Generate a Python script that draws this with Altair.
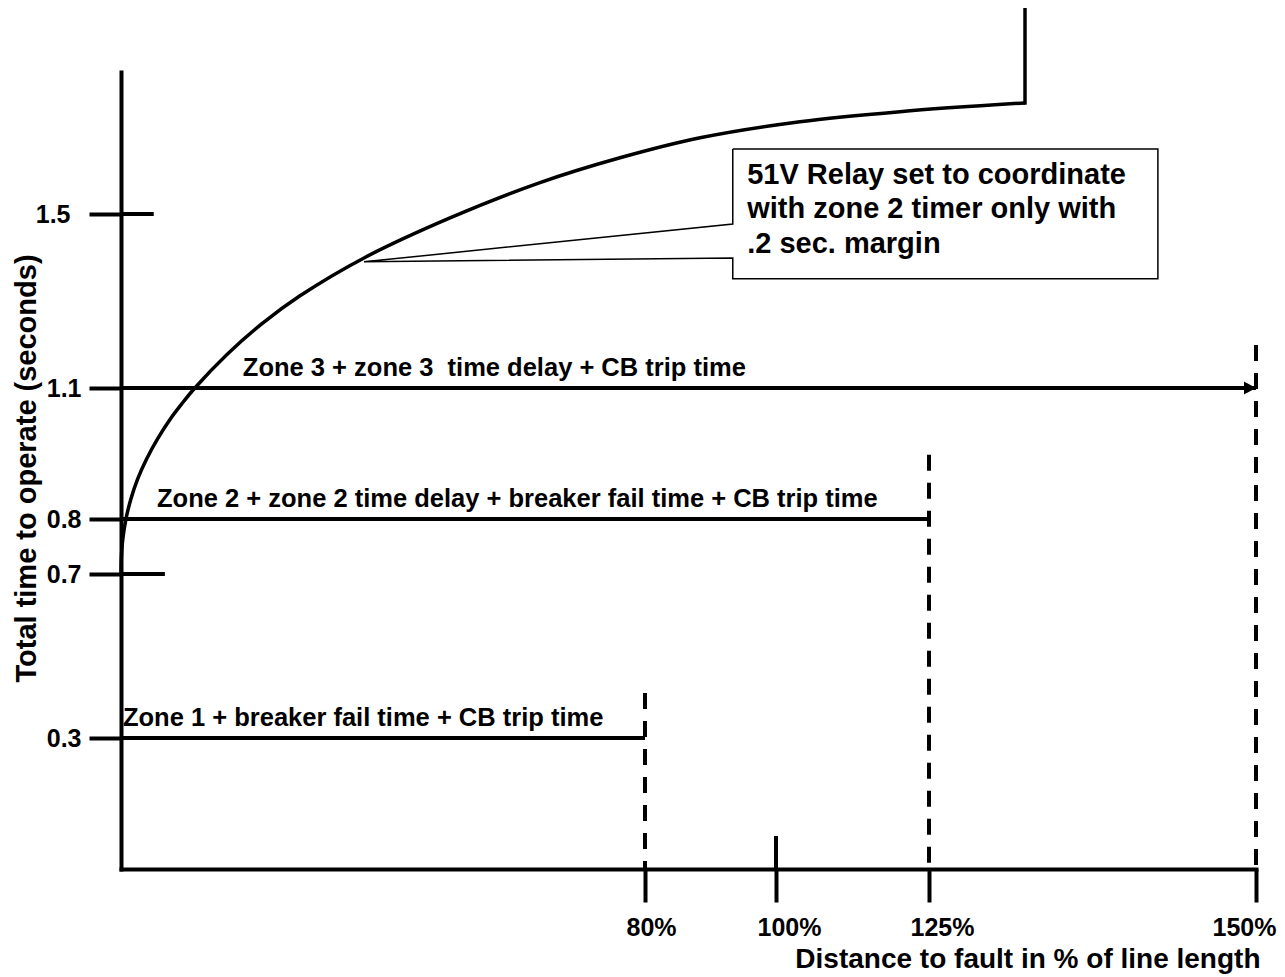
import altair as alt
import pandas as pd

FONT = "Liberation Sans"

# ---------------- axis ticks ----------------
x_tick_values = [80, 100, 125, 150]
x_tick_labels = ["80%", "100%", "125%", "150%"]
y_tick_values = [0.3, 0.7, 0.8, 1.1, 1.5]
y_tick_labels = ["0.3", "0.7", "0.8", "1.1", "1.5"]

# ---------------- scale breakpoints (schematic, non-uniform axes) ----------------
x_breaks = [0, 80, 100, 125, 150]
x_break_px = [0, 524, 655, 808, 1135]
y_breaks = [0, 0.3, 0.7, 0.8, 1.1, 1.5, 1.826]
y_break_px = [797, 666, 502, 447, 316, 142, 0]

# ---------------- zone reach lines ----------------
zone_names = [
    "Zone 1 + breaker fail time + CB trip time",
    "Zone 2 + zone 2 time delay + breaker fail time + CB trip time",
    "Zone 3 + zone 3\u00a0 time delay + CB trip time",
]
zone_time = [0.3, 0.8, 1.1]
zone_reach = [80, 125, 150]
zone_label_x = [0.3, 5.5, 18.6]

# dashed reach markers
reach_x = [80, 125, 150]
reach_top = [0.41, 0.947, 1.199]

# extra tick marks
upper_tick_x = [100]
upper_tick_top = [0.0756]
cross_tick_y = [1.5, 0.7]
cross_tick_end = [5.0, 6.7]

# ---------------- 51V relay curve ----------------
curve_x = [0, 0.02, 0.08, 0.28, 0.76, 1.51, 2.55, 3.89, 5.56, 7.53, 9.24, 11.27,
           16.18, 21.53, 27.33, 37.10, 50.23, 63.97, 76.18, 88.40, 103.92, 120.26, 132.34]
curve_y = [0.700, 0.718, 0.736, 0.764, 0.800, 0.846, 0.892, 0.937, 0.983, 1.029, 1.063, 1.100,
           1.177, 1.248, 1.312, 1.399, 1.491, 1.572, 1.629, 1.675, 1.712, 1.735, 1.755]
riser_x = [132.34]
riser_bottom = [1.755]
riser_top = [1.98]

# ---------------- callout ----------------
callout_lines = ["51V Relay set to coordinate", "with zone 2 timer only with", ".2 sec. margin"]
callout_text_x = [95.6]
callout_text_y = [1.569]
box_x = [93.4, 142.5, 142.5, 93.4, 93.4, 37.1, 93.4, 93.4]
box_y = [1.649, 1.649, 1.351, 1.351, 1.399, 1.390, 1.477, 1.649]

X_SCALE = alt.Scale(domain=x_breaks, range=x_break_px, nice=False, zero=False)
Y_SCALE = alt.Scale(domain=y_breaks, range=y_break_px, nice=False, zero=False)


def lookup_expr(values, labels):
    expr = "''"
    for v, l in reversed(list(zip(values, labels))):
        expr = f"datum.value == {v} ? '{l}' : ({expr})"
    return expr


x_axis = alt.Axis(
    values=x_tick_values,
    labelExpr=lookup_expr(x_tick_values, x_tick_labels),
    title="Distance to fault in % of line length",
    grid=False,
    domainColor="black", domainWidth=4, domainCap="square",
    tickColor="black", tickWidth=4, tickSize=33,
    labelFont=FONT, labelFontSize=25, labelFontWeight="bold", labelColor="black",
    labelBaseline="alphabetic", labelPadding=33, labelAlign="center",
    labelOffset={"condition": [{"test": "datum.value == 150", "value": -12},
                               {"test": "datum.value == 80", "value": 6}],
                 "value": 13},
    labelFlush=False, labelOverlap=False,
    titleFont=FONT, titleFontSize=28, titleFontWeight="bold", titleColor="black",
    titleAlign="right", titleAnchor="end", titleBaseline="alphabetic",
    titleX=1139, titleY=98,
)

y_axis = alt.Axis(
    values=y_tick_values,
    labelExpr=lookup_expr(y_tick_values, y_tick_labels),
    title="Total time to operate (seconds)",
    grid=False,
    domainColor="black", domainWidth=4, domainCap="square",
    tickColor="black", tickWidth=4, tickSize=32,
    labelFont=FONT, labelFontSize=25, labelFontWeight="bold", labelColor="black",
    labelAlign="right", labelBaseline="middle",
    labelPadding={"condition": {"test": "datum.value == 1.5", "value": 19}, "value": 8},
    labelFlush=False, labelOverlap=False,
    titleFont=FONT, titleFontSize=29, titleFontWeight="bold", titleColor="black",
    titleAngle=270, titleAlign="center", titleBaseline="alphabetic",
    titleX=-86, titleY=396,
)


def X(field):
    return alt.X(field, type="quantitative", scale=X_SCALE, axis=x_axis)


def Y(field):
    return alt.Y(field, type="quantitative", scale=Y_SCALE, axis=y_axis)


zones_df = pd.DataFrame({
    "start": [0] * len(zone_time),
    "reach": zone_reach,
    "time": zone_time,
    "label": zone_names,
    "label_x": zone_label_x,
})

zone_lines = alt.Chart(zones_df).mark_rule(color="black", strokeWidth=4).encode(
    x=X("start"), x2="reach:Q", y=Y("time"),
)

zone_text = alt.Chart(zones_df).mark_text(
    font=FONT, fontSize=25.5, fontWeight="bold", color="black",
    align="left", baseline="alphabetic", dy=-12,
).encode(x=X("label_x"), y=Y("time"), text="label:N")

arrow_df = pd.DataFrame({"x": [zone_reach[2]], "y": [zone_time[2]]})
arrow = alt.Chart(arrow_df).mark_point(
    shape="M0,0L-1.85,-1L-1.85,1Z", size=169, filled=True, color="black",
    opacity=1, strokeWidth=0,
).encode(x=X("x"), y=Y("y"))

reach_df = pd.DataFrame({"x": reach_x, "top": reach_top, "bottom": [0] * len(reach_x)})
reach_lines = alt.Chart(reach_df).mark_rule(
    color="black", strokeWidth=4, strokeDash=[16, 12]
).encode(x=X("x"), y=Y("top"), y2="bottom:Q")

upper_df = pd.DataFrame({"x": upper_tick_x, "top": upper_tick_top, "bottom": [0]})
upper_tick = alt.Chart(upper_df).mark_rule(color="black", strokeWidth=4).encode(
    x=X("x"), y=Y("top"), y2="bottom:Q",
)

cross_df = pd.DataFrame({"y": cross_tick_y, "start": [0] * len(cross_tick_y), "end": cross_tick_end})
cross_ticks = alt.Chart(cross_df).mark_rule(color="black", strokeWidth=4).encode(
    x=X("start"), x2="end:Q", y=Y("y"),
)

curve_df = pd.DataFrame({"x": curve_x, "y": curve_y, "i": list(range(len(curve_x)))})
curve = alt.Chart(curve_df).mark_line(
    color="black", strokeWidth=3.5, interpolate="catmull-rom"
).encode(x=X("x"), y=Y("y"), order="i:Q")

riser_df = pd.DataFrame({"x": riser_x, "bottom": riser_bottom, "top": riser_top})
riser = alt.Chart(riser_df).mark_rule(color="black", strokeWidth=3.5, strokeCap="square").encode(
    x=X("x"), y=Y("bottom"), y2="top:Q",
)

box_df = pd.DataFrame({"x": box_x, "y": box_y, "i": list(range(len(box_x)))})
box = alt.Chart(box_df).mark_line(color="black", strokeWidth=1.5, strokeJoin="miter").encode(
    x=X("x"), y=Y("y"), order="i:Q",
)

callout_df = pd.DataFrame({"x": callout_text_x, "y": callout_text_y, "t": ["\n".join(callout_lines)]})
callout_text = alt.Chart(callout_df).mark_text(
    font=FONT, fontSize=29, fontWeight="bold", color="black",
    align="left", baseline="alphabetic", lineBreak="\n", lineHeight=34.5,
).encode(x=X("x"), y=Y("y"), text="t:N")

chart = alt.layer(
    zone_lines, reach_lines, upper_tick, cross_ticks, curve, riser, arrow,
    zone_text, box, callout_text,
).properties(
    width=1135,
    height=797,
    padding={"left": 113, "top": 64, "right": 21, "bottom": 108},
    autosize=alt.AutoSizeParams(type="none"),
    background="white",
).configure_view(stroke=None)

chart.save("out.html", embed_options={"renderer": "svg", "actions": False})
